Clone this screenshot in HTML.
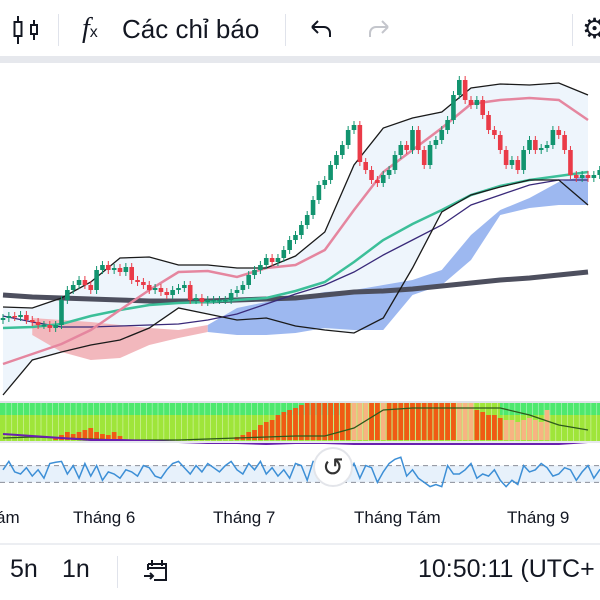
<!DOCTYPE html>
<html><head><meta charset="utf-8">
<style>
body{margin:0;width:600px;height:600px;overflow:hidden;background:#fff;font-family:"Liberation Sans",sans-serif;position:relative}
.t{position:absolute;color:#131722;white-space:nowrap}
.div{position:absolute;width:1px;background:#e0e3eb}
</style></head><body>
<div style="position:absolute;left:0;top:0;width:600px;height:56px;background:#fff"></div>
<svg style="position:absolute;left:10px;top:14px" width="30" height="32" viewBox="0 0 30 32"><line x1="8" y1="2" x2="8" y2="30" stroke="#131722" stroke-width="2"/><rect x="4.5" y="8" width="7" height="14" fill="#fff" stroke="#131722" stroke-width="2"/><line x1="24" y1="6" x2="24" y2="26" stroke="#131722" stroke-width="2"/><rect x="21" y="11" width="6" height="9" fill="#fff" stroke="#131722" stroke-width="2"/></svg>
<div class="div" style="left:58px;top:14px;height:32px"></div>
<div class="t" style="left:82px;top:13px;font-size:28px;font-family:'Liberation Serif',serif;font-style:italic">f<span style="font-size:16px;font-style:normal;font-family:'Liberation Sans'">x</span></div>
<div class="t" style="left:122px;top:14px;font-size:26px">Các chỉ báo</div>
<div class="div" style="left:285px;top:14px;height:32px"></div>
<svg style="position:absolute;left:308px;top:18px" width="26" height="24" viewBox="0 0 26 24"><path d="M4 9h12a6 6 0 0 1 6 6v4M4 9l6-6M4 9l6 6" fill="none" stroke="#131722" stroke-width="2"/></svg>
<svg style="position:absolute;left:366px;top:18px" width="26" height="24" viewBox="0 0 26 24"><path d="M22 9H10a6 6 0 0 0-6 6v4M22 9l-6-6M22 9l-6 6" fill="none" stroke="#c4c6cc" stroke-width="2"/></svg>
<div class="div" style="left:572px;top:14px;height:32px"></div>
<div class="t" style="left:582px;top:12px;font-size:28px">⚙</div>
<div style="position:absolute;left:0;top:56px;width:600px;height:7px;background:#e6e8ed"></div>

<svg id="chart" style="position:absolute;left:0;top:0" width="600" height="600"></svg>

<div class="t" style="left:-4px;top:508px;font-size:17px">ám</div>
<div class="t" style="left:73px;top:508px;font-size:17px">Tháng 6</div>
<div class="t" style="left:213px;top:508px;font-size:17px">Tháng 7</div>
<div class="t" style="left:354px;top:508px;font-size:17px">Tháng Tám</div>
<div class="t" style="left:507px;top:508px;font-size:17px">Tháng 9</div>
<div style="position:absolute;left:0;top:543px;width:600px;height:2px;background:#eceef2"></div>
<div class="t" style="left:10px;top:555px;font-size:25px">5n</div>
<div class="t" style="left:62px;top:555px;font-size:25px">1n</div>
<div class="div" style="left:117px;top:556px;height:32px"></div>
<svg style="position:absolute;left:142px;top:556px" width="30" height="30" viewBox="0 0 30 30"><path d="M6 8h18v16H12M6 8v6M10 4v6M20 4v6M6 12h18" fill="none" stroke="#131722" stroke-width="2"/><path d="M2 20h9M8 17l3 3-3 3" fill="none" stroke="#131722" stroke-width="2"/></svg>
<div class="t" style="left:418px;top:555px;font-size:25px">10:50:11 (UTC+</div>

<script>
const closes=[82,84,83,85,80,78,75,75,72,75,100,110,115,120,115,110,130,135,130,132,128,133,120,118,115,110,112,108,105,110,112,115,100,102,98,100,100,100,100,107,110,115,125,130,135,142,138,142,150,160,165,175,185,200,215,220,235,245,255,270,275,238,230,220,217,225,230,245,255,250,270,250,235,255,260,270,280,305,320,300,295,300,285,270,265,250,235,240,230,250,260,250,252,255,270,265,250,225,222,225,222,225,230,232,235,240,238,236,240];
const bbUpper=[93,92,102,118,142,143,135,135,132,132,144,168,235,272,282,288,312,316,315,317,305];
const bbLower=[5,40,48,55,60,72,92,86,80,82,74,70,67,82,132,188,205,213,220,220,195];
const sma20=[36,46,56,70,90,110,128,129,123,132,135,150,190,228,250,272,296,300,302,300,280];
const sma50=[72,73,76,84,90,95,97,98,100,102,109,118,138,160,176,190,205,214,220,224,228];
const emaThin=[84,78,73,73,74,75,76,80,86,96,106,115,128,145,160,175,195,205,215,220,220];
const sma200=[105,103,102,101,100,99,99,99,100,101,102,105,108,109,111,114,117,120,122,125,128];
const cloudTop=[82,82,80,78,75,72,70,75,92,98,102,108,110,115,120,130,165,190,202,218,225];
const cloudBot=[65,65,48,40,42,55,62,68,65,65,67,72,70,70,105,115,140,185,192,195,195];
const oscBars=[0,0,0,0,0,0,0,0,0,3,5,8,6,8,10,12,8,6,5,8,4,0,0,0,0,0,0,0,0,0,0,0,0,0,0,0,0,0,0,0,3,5,8,10,15,18,20,25,28,30,32,35,37,37,37,37,37,37,37,37,37,37,37,37,37,37,37,37,37,37,37,37,37,37,37,37,37,37,37,37,37,30,28,25,25,22,20,20,18,20,22,20,18,30,0,0,0,0,0,0,0,0];
const oscState="oooooooooooooooooooooooooooooooooooooooooooooooooooooooooooopppoopoooooooooooopppooooopppppppppppppopppppppp";
const oscLineA=[2,3,2,1,0,0,0,1,2,3,4,4,12,30,32,32,32,32,25,15,10];
const oscLineB=[6,4,2,0,0,-1,-2,-3,-3,-4,-3,-3,-4,-4,-4,-4,-4,-4,-4,-4,-2];
const rsi=[60,80,55,50,65,45,60,40,75,78,80,50,70,40,75,45,70,35,55,50,40,60,55,45,70,65,45,40,60,75,80,65,50,70,55,75,65,55,70,80,60,50,75,60,80,50,65,45,60,40,75,70,35,80,78,85,30,25,60,50,75,40,70,65,30,55,75,85,90,45,60,40,30,20,25,20,70,50,50,60,75,40,50,45,60,35,20,35,25,70,55,60,75,65,45,50,65,60,35,55,70,40,60,55];

const NS="http://www.w3.org/2000/svg";
const svg=document.getElementById('chart');
const xScale=i=>3+i*5.85;
const sampleX=k=>xScale(k*5);
const yScale=p=>400-p;
const oscY=v=>440-v;
const lineY=v=>440-v*1.0;
const rsiY=v=>495-v*0.42;
function mk(tag,attrs,name){const e=document.createElementNS(NS,tag);for(const k in attrs)e.setAttribute(k,attrs[k]);


svg.appendChild(e);return e;}
function pts(arr,fy){return arr.map((v,k)=>sampleX(k).toFixed(1)+','+fy(v).toFixed(1)).join(' ');}
mk('polygon',{points:pts(bbUpper,yScale)+' '+bbLower.map((v,k)=>sampleX(k)+','+yScale(v)).reverse().join(' '),fill:'#eaf3fb',opacity:0.8},'bollinger-fill');
function cloudPoly(a,b,color,name){let top=[],bot=[];for(let k=a;k<=b;k++){top.push(sampleX(k)+','+yScale(cloudTop[k]));bot.unshift(sampleX(k)+','+yScale(cloudBot[k]));}
mk('polygon',{points:top.concat(bot).join(' '),fill:color},name);}
cloudPoly(1,7,'#f2b8bd','ichimoku-cloud-bearish');
cloudPoly(7,20,'#9db8f0','ichimoku-cloud-bullish');
mk('polyline',{points:pts(sma200,yScale),fill:'none',stroke:'#4d4f5e',"stroke-width":5},'sma200-line');
mk('polyline',{points:pts(emaThin,yScale),fill:'none',stroke:'#3a2a7a',"stroke-width":1.3},'ema-line');
mk('polyline',{points:pts(sma50,yScale),fill:'none',stroke:'#3cbf99',"stroke-width":2.5},'sma50-line');
mk('polyline',{points:pts(sma20,yScale),fill:'none',stroke:'#e5869f',"stroke-width":2.5},'bollinger-basis');
mk('polyline',{points:pts(bbUpper,yScale),fill:'none',stroke:'#1a1a1a',"stroke-width":1.3},'bollinger-upper');
mk('polyline',{points:pts(bbLower,yScale),fill:'none',stroke:'#1a1a1a',"stroke-width":1.3},'bollinger-lower');
for(let i=0;i<closes.length;i++){
 const c=closes[i],o=i?closes[i-1]:c-2;const up=c>=o;const col=up?'#12946f':'#ea3b48';
 const x=xScale(i);const top=yScale(Math.max(o,c)),bot=yScale(Math.min(o,c));
 mk('line',{x1:x,x2:x,y1:top-4,y2:bot+4,stroke:col,"stroke-width":1},'candle-wick');
 mk('rect',{x:x-2.3,y:top,width:4.6,height:Math.max(1.5,bot-top),fill:col},'candle-body');
}
mk('rect',{x:0,y:401,width:600,height:2,fill:'#dfe2e8'},'pane-separator');
mk('rect',{x:0,y:403,width:600,height:38,fill:'#9fe53a'},'oscillator-background');
mk('rect',{x:0,y:403,width:340,height:12,fill:'#4ee86e'},'oscillator-top-band');
mk('rect',{x:500,y:403,width:100,height:12,fill:'#4ee86e'},'oscillator-top-band');
for(let i=0;i<oscBars.length;i++){
 if(!oscBars[i])continue;
 mk('rect',{x:xScale(i)-2.4,y:oscY(oscBars[i]),width:4.8,height:oscBars[i],fill:oscState[i]==='p'?'#f7b482':'#f05a14'},'oscillator-bar');
}
for(let i=0;i<oscBars.length;i++){mk('line',{x1:xScale(i)+2.9,x2:xScale(i)+2.9,y1:403,y2:441,stroke:'#fff',"stroke-width":0.6,opacity:0.6},'bar-gap');}
mk('polyline',{points:pts(oscLineA,lineY),fill:'none',stroke:'#2e5a1c',"stroke-width":1.3},'oscillator-signal-line');
mk('polyline',{points:pts(oscLineB,lineY),fill:'none',stroke:'#6a1fb0',"stroke-width":2},'oscillator-main-line');
mk('rect',{x:0,y:441,width:600,height:2,fill:'#e6e8ed'},'pane-separator');
mk('rect',{x:0,y:rsiY(70),width:600,height:rsiY(30)-rsiY(70),fill:'#e7f1fb'},'rsi-band');
mk('line',{x1:0,x2:600,y1:rsiY(70),y2:rsiY(70),stroke:'#8a8e99',"stroke-dasharray":"5,4"},'rsi-upper-level');
mk('line',{x1:0,x2:600,y1:rsiY(30),y2:rsiY(30),stroke:'#8a8e99',"stroke-dasharray":"5,4"},'rsi-lower-level');
mk('polyline',{points:rsi.map((v,i)=>xScale(i)+','+rsiY(v)).join(' '),fill:'none',stroke:'#3d8fd6',"stroke-width":1.5},'rsi-line');
mk('circle',{cx:333,cy:467,r:19,fill:'#fff',stroke:'#e3e5ea',"stroke-width":2},'reset-chart-button');
const t=mk('text',{x:333,y:476,"text-anchor":"middle","font-size":26,fill:'#333',"font-family":"DejaVu Sans"},'reset-icon');t.textContent='↺';
</script>
</body></html>
